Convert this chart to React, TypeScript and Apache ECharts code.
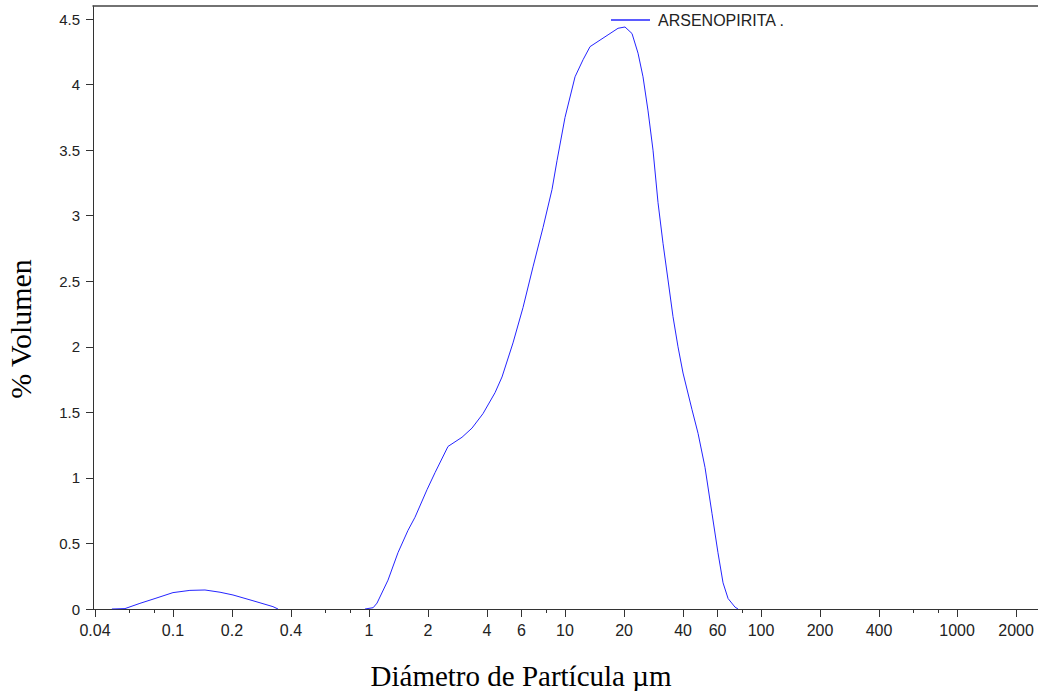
import React, { useEffect, useRef } from "react";
import * as echarts from "echarts";

// Particle diameters (µm) and % volume
const HUMP_D = [0.0488, 0.0569, 0.0678, 0.081, 0.1, 0.122, 0.1456, 0.1738, 0.2024, 0.256, 0.3236, 0.3434];
const HUMP_V = [0, 0.003, 0.043, 0.08, 0.125, 0.142, 0.145, 0.128, 0.107, 0.063, 0.018, 0];

const MAIN_D = [0.954, 1.05, 1.099, 1.25, 1.406, 1.581, 1.717, 1.977, 2.172, 2.53, 2.982, 3.354, 3.815, 4.395, 4.771, 5.429, 6.107, 6.866, 7.724, 8.584, 9.103, 10, 11.25, 12.36, 13.42, 15.09, 16.58, 18.64, 20.23, 21.97, 23.58, 25.0, 26.52, 28.12, 29.82, 31.62, 33.54, 35.56, 37.71, 40.0, 44.46, 47.72, 51.8, 56.2, 60.3, 64.0, 67.9, 73.6, 76.3];
const MAIN_V = [0, 0.01, 0.045, 0.22, 0.43, 0.6, 0.7, 0.91, 1.04, 1.24, 1.31, 1.38, 1.49, 1.65, 1.77, 2.03, 2.3, 2.61, 2.91, 3.2, 3.42, 3.75, 4.06, 4.19, 4.29, 4.34, 4.38, 4.43, 4.44, 4.39, 4.24, 4.06, 3.8, 3.5, 3.1, 2.79, 2.51, 2.23, 2.0, 1.8, 1.52, 1.34, 1.08, 0.73, 0.43, 0.2, 0.08, 0.015, 0];

const X_MAJOR_TICKS = [0.04, 0.1, 0.2, 0.4, 1, 2, 4, 6, 10, 20, 40, 60, 100, 200, 400, 1000, 2000];
const X_MINOR_TICKS = [0.06, 0.08, 0.6, 0.8, 8, 80, 600, 800];
const Y_TICKS = [0, 0.5, 1, 1.5, 2, 2.5, 3, 3.5, 4, 4.5];

const SERIES_NAME = "ARSENOPIRITA .";
const X_TITLE = "Diámetro de Partícula µm";
const Y_TITLE = "% Volumen";

const X_MIN_LOG = -1.408;
const X_MAX_LOG = 3.413;

export default function App() {
  const ref = useRef<HTMLDivElement>(null);

  useEffect(() => {
    if (!ref.current) return;
    const chart = echarts.init(ref.current, undefined, { renderer: "svg" });
    const toPts = (ds: number[], vs: number[]) => ds.map((d, i) => [Math.log10(d), vs[i]]);
    const fmtX = (v: number) => {
      const d = Math.pow(10, v);
      const t = X_MAJOR_TICKS.find((m) => Math.abs(Math.log10(m) - v) < 1e-6);
      return String(t !== undefined ? t : Number(d.toPrecision(4)));
    };
    const axisColor = "#333";
    const labelFont = "Liberation Sans";
    const lineColor = "#2424ff";
    chart.setOption({
      animation: false,
      backgroundColor: "#fff",
      grid: { left: 93, right: 0, top: 6, bottom: 82, containLabel: false },
      legend: {
        left: 611,
        top: 12,
        padding: 0,
        itemWidth: 39,
        itemHeight: 1.5,
        itemGap: 0,
        data: [{ name: SERIES_NAME, icon: "rect" }],
        textStyle: { fontSize: 16, color: "#222", fontFamily: labelFont, padding: [0, 0, 0, 3] },
      },
      xAxis: [
        {
          type: "value",
          min: X_MIN_LOG,
          max: X_MAX_LOG,
          position: "bottom",
          axisLine: { show: true, onZero: false, lineStyle: { color: axisColor, width: 1 } },
          axisTick: {
            show: true,
            length: 8,
            customValues: X_MAJOR_TICKS.map((t) => Math.log10(t)),
            lineStyle: { color: axisColor },
          },
          axisLabel: {
            customValues: X_MAJOR_TICKS.map((t) => Math.log10(t)),
            formatter: fmtX,
            fontSize: 16,
            color: "#222",
            fontFamily: labelFont,
            margin: 13,
          },
          splitLine: { show: false },
        },
        {
          type: "value",
          min: X_MIN_LOG,
          max: X_MAX_LOG,
          position: "bottom",
          axisLine: { show: false, onZero: false },
          axisTick: {
            show: true,
            length: 4,
            customValues: X_MINOR_TICKS.map((t) => Math.log10(t)),
            lineStyle: { color: axisColor },
          },
          axisLabel: { show: false },
          splitLine: { show: false },
        },
        {
          type: "value",
          min: X_MIN_LOG,
          max: X_MAX_LOG,
          position: "top",
          axisLine: { show: true, onZero: false, lineStyle: { color: "#444", width: 1.5 } },
          axisTick: { show: false },
          axisLabel: { show: false },
          splitLine: { show: false },
        },
      ],
      yAxis: {
        type: "value",
        min: 0,
        max: 4.6,
        interval: 0.5,
        axisLine: { show: true, onZero: false, lineStyle: { color: axisColor, width: 1 } },
        axisTick: { show: true, length: 7, customValues: Y_TICKS, lineStyle: { color: axisColor } },
        axisLabel: {
          customValues: Y_TICKS,
          formatter: (v: number) => String(v),
          fontSize: 15,
          color: "#222",
          fontFamily: labelFont,
          margin: 13,
        },
        splitLine: { show: false },
      },
      series: [
        {
          name: SERIES_NAME,
          type: "line",
          xAxisIndex: 0,
          symbol: "none",
          data: toPts(HUMP_D, HUMP_V),
          lineStyle: { color: lineColor, width: 1 },
          itemStyle: { color: lineColor },
        },
        {
          name: SERIES_NAME,
          type: "line",
          xAxisIndex: 0,
          symbol: "none",
          data: toPts(MAIN_D, MAIN_V),
          lineStyle: { color: lineColor, width: 1 },
          itemStyle: { color: lineColor },
        },
      ],
      graphic: [
        {
          type: "text",
          x: 521,
          y: 676,
          style: {
            text: X_TITLE,
            font: '29px "Liberation Serif"',
            fill: "#000",
            align: "center",
            verticalAlign: "middle",
            textAlign: "center",
            textVerticalAlign: "middle",
          },
        },
        {
          type: "text",
          x: 20,
          y: 329,
          rotation: Math.PI / 2,
          style: {
            text: Y_TITLE,
            font: '30px "Liberation Serif"',
            fill: "#000",
            align: "center",
            verticalAlign: "middle",
            textAlign: "center",
            textVerticalAlign: "middle",
          },
        },
      ],
    });
    return () => chart.dispose();
  }, []);

  return (
    <div
      ref={ref}
      style={{ position: "absolute", left: 0, top: 0, width: 1038, height: 691, background: "#fff" }}
    />
  );
}
